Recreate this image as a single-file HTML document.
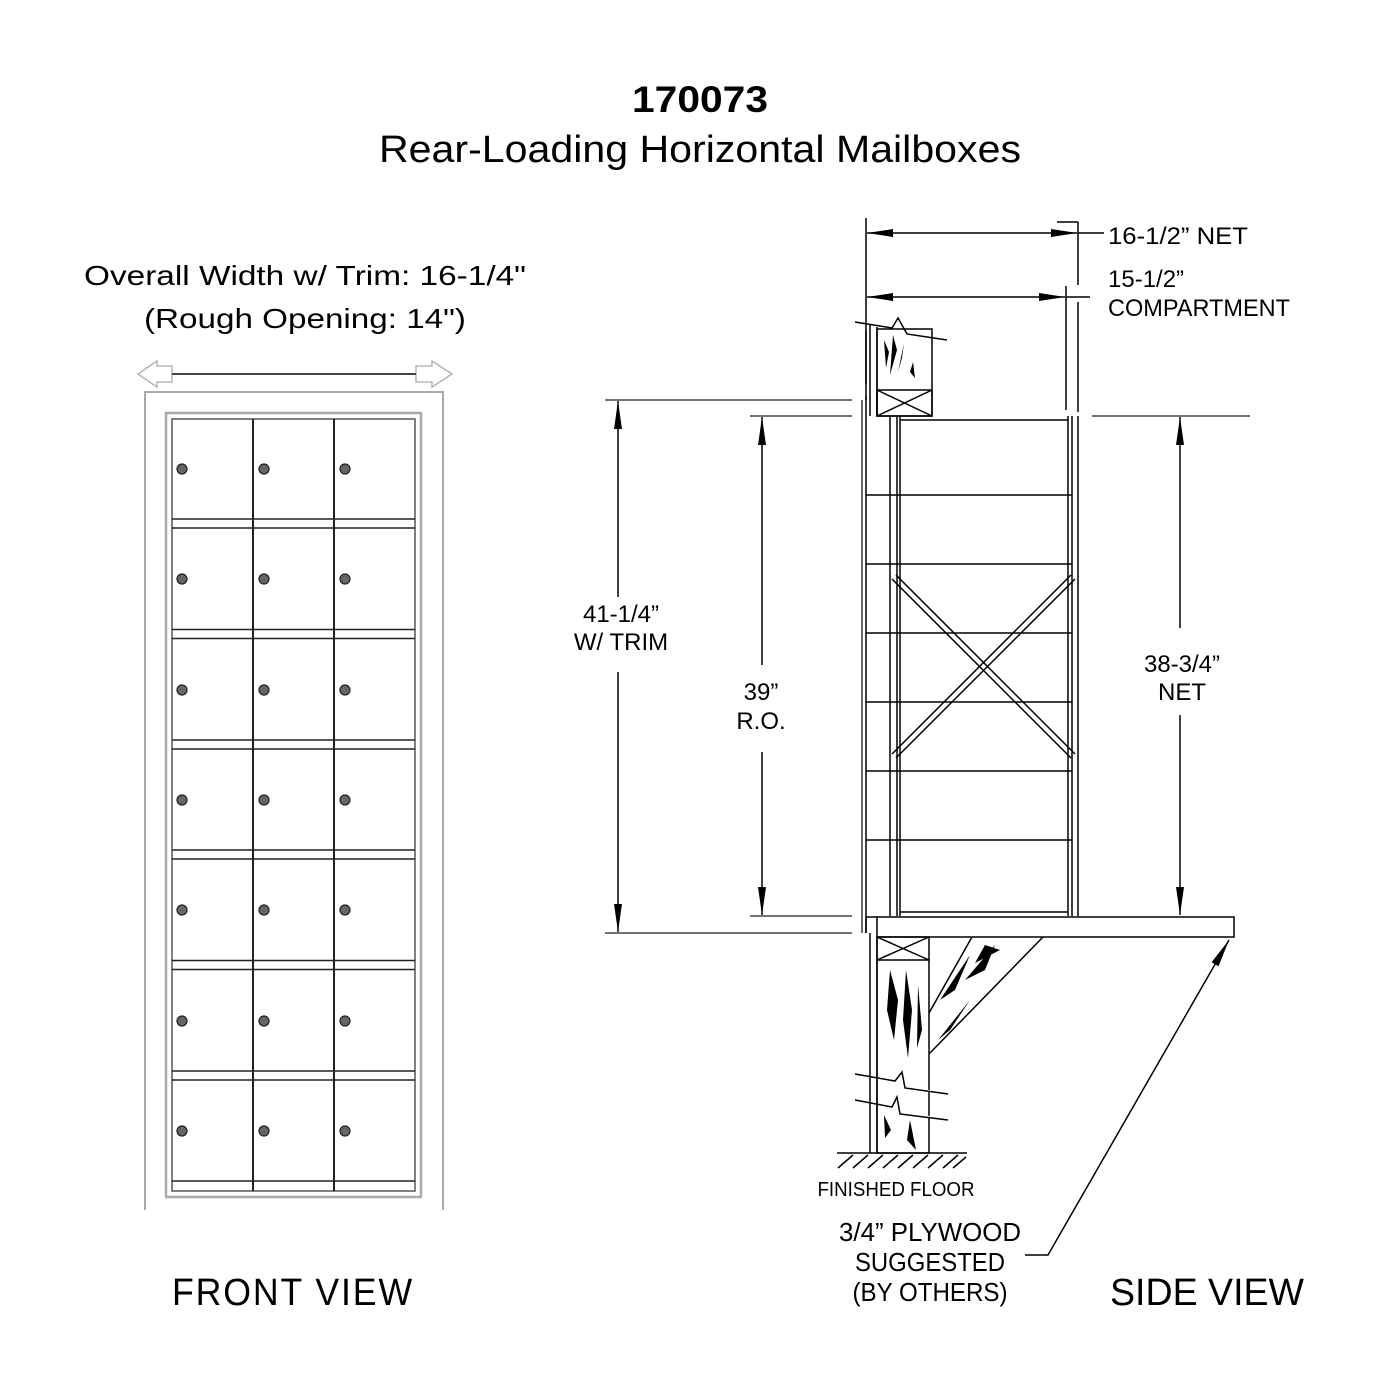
<!DOCTYPE html>
<html><head><meta charset="utf-8"><style>html,body{margin:0;padding:0;background:#fff}svg{display:block}</style></head>
<body>
<svg width="1400" height="1400" viewBox="0 0 1400 1400" xmlns="http://www.w3.org/2000/svg" font-family="Liberation Sans, sans-serif">
<defs>
<marker id="ar" viewBox="-28 -5 28 10" refX="0" refY="0" markerWidth="28" markerHeight="10" markerUnits="userSpaceOnUse" orient="auto-start-reverse"><path d="M0,0 L-26,-4 L-26,4Z" fill="#000"/></marker>
<marker id="av" viewBox="-30 -5 30 10" refX="0" refY="0" markerWidth="30" markerHeight="10" markerUnits="userSpaceOnUse" orient="auto"><path d="M0,0 L-28,-4 L-28,4Z" fill="#000"/></marker>
</defs>
<rect width="1400" height="1400" fill="#fff"/>
<text x="700" y="112" text-anchor="middle" font-size="37" font-weight="bold" textLength="136" lengthAdjust="spacingAndGlyphs">170073</text>
<text x="700" y="162" text-anchor="middle" font-size="38" textLength="642" lengthAdjust="spacingAndGlyphs">Rear-Loading Horizontal Mailboxes</text>

<text x="305" y="285" text-anchor="middle" font-size="28" textLength="442" lengthAdjust="spacingAndGlyphs">Overall Width w/ Trim: 16-1/4"</text>
<text x="305" y="328" text-anchor="middle" font-size="28" textLength="322" lengthAdjust="spacingAndGlyphs">(Rough Opening: 14")</text>
<g stroke="#aaa" stroke-width="1.3" fill="#fff">
<path d="M172,370 L172,366 L157,366 L157,361 L138,374 L157,387 L157,382 L172,382Z"/>
<path d="M416,370 L416,366 L432,366 L432,361 L452,374 L432,387 L432,382 L416,382Z"/>
</g>
<line x1="172" y1="374" x2="416" y2="374" stroke="#444" stroke-width="2"/>
<path d="M145,1210 L145,392 L443,392 L443,1210" stroke="#aaa" stroke-width="2" fill="none"/>
<rect x="166" y="413" width="255" height="784" stroke="#aaa" stroke-width="2.5" fill="none"/>
<rect x="172" y="419" width="243" height="772" fill="none" stroke="#555" stroke-width="1.5"/>
<g stroke="#222" stroke-width="1.4" fill="none">
<path d="M172,519H415M172,528H415 M172,629.5H415M172,638.5H415 M172,740H415M172,749H415 M172,850H415M172,859H415 M172,960.5H415M172,969.5H415 M172,1071H415M172,1080H415 M172,1181H415"/>
<path d="M253,419V1191M334,419V1191" stroke-width="2"/>
</g>
<g fill="#666" stroke="#222" stroke-width="1.2">
<circle cx="182" cy="469" r="5"/><circle cx="264" cy="469" r="5"/><circle cx="345" cy="469" r="5"/>
<circle cx="182" cy="579" r="5"/><circle cx="264" cy="579" r="5"/><circle cx="345" cy="579" r="5"/>
<circle cx="182" cy="690" r="5"/><circle cx="264" cy="690" r="5"/><circle cx="345" cy="690" r="5"/>
<circle cx="182" cy="800" r="5"/><circle cx="264" cy="800" r="5"/><circle cx="345" cy="800" r="5"/>
<circle cx="182" cy="910" r="5"/><circle cx="264" cy="910" r="5"/><circle cx="345" cy="910" r="5"/>
<circle cx="182" cy="1021" r="5"/><circle cx="264" cy="1021" r="5"/><circle cx="345" cy="1021" r="5"/>
<circle cx="182" cy="1131" r="5"/><circle cx="264" cy="1131" r="5"/><circle cx="345" cy="1131" r="5"/>
</g>
<text x="293" y="1305" text-anchor="middle" font-size="38" textLength="242" lengthAdjust="spacingAndGlyphs" letter-spacing="2">FRONT VIEW</text>

<g stroke="#000" stroke-width="1.5" fill="none">
<line x1="866" y1="218" x2="866" y2="400"/>
<line x1="1078" y1="222" x2="1078" y2="285"/>
<line x1="1057" y1="222" x2="1078" y2="222"/>
<line x1="1078" y1="302" x2="1078" y2="412"/>
<line x1="1066" y1="286" x2="1066" y2="410"/>
<line x1="867" y1="233" x2="1077" y2="233" marker-start="url(#ar)" marker-end="url(#ar)"/>
<line x1="1078" y1="233" x2="1104" y2="233"/>
<line x1="867" y1="297" x2="1065" y2="297" marker-start="url(#ar)" marker-end="url(#ar)"/>
<line x1="1066" y1="297" x2="1090" y2="297"/>
<line x1="605" y1="400" x2="852" y2="400" stroke="#444"/>
<line x1="605" y1="933" x2="852" y2="933" stroke="#444"/>
<line x1="750" y1="416" x2="852" y2="416" stroke="#444"/>
<line x1="750" y1="916" x2="852" y2="916" stroke="#444"/>
<line x1="1092" y1="416" x2="1250" y2="416" stroke="#444"/>
<line x1="618" y1="597" x2="618" y2="401" marker-end="url(#av)"/>
<line x1="618" y1="672" x2="618" y2="932" marker-end="url(#av)"/>
<line x1="762" y1="665" x2="762" y2="417" marker-end="url(#av)"/>
<line x1="762" y1="752" x2="762" y2="915" marker-end="url(#av)"/>
<line x1="1180" y1="628" x2="1180" y2="417" marker-end="url(#av)"/>
<line x1="1180" y1="715" x2="1180" y2="915" marker-end="url(#av)"/>
</g>
<g font-size="24" text-anchor="middle">
<text x="621" y="622">41-1/4”</text>
<text x="621" y="650">W/ TRIM</text>
<text x="761" y="700">39”</text>
<text x="761" y="729">R.O.</text>
<text x="1182" y="672">38-3/4”</text>
<text x="1182" y="700">NET</text>
</g>
<g font-size="24">
<text x="1108" y="244" textLength="140" lengthAdjust="spacingAndGlyphs">16-1/2” NET</text>
<text x="1108" y="287">15-1/2”</text>
<text x="1108" y="316" textLength="182" lengthAdjust="spacingAndGlyphs">COMPARTMENT</text>
</g>

<g stroke="#000" stroke-width="1.5" fill="none">
<path d="M855,322 L892,328 L898,318 L907,334 L947,340"/>
<path d="M866,330 V384 M866,396 V933"/>
<path d="M870,325 V416 M877,327 V416"/>
<rect x="877" y="329" width="55" height="87"/>
<rect x="877" y="390" width="55" height="26"/>
<path d="M877,390 L932,416 M932,390 L877,416"/>
<path d="M862,400 V933" stroke-width="1.2"/>
<path d="M890,416 V916 M897,416 V916 M900,416 V916"/>
<path d="M1068,416 V916 M1072,416 V916 M1078,416 V916"/>
<path d="M900,420 H1068"/>
<path d="M866,495H1072 M866,564H1072 M866,633H1072 M866,702H1072 M866,771H1072 M866,840H1072 M900,912H1068"/>
<path d="M892,579 L1071,758 M896,575 L1075,754"/>
<path d="M1071,575 L892,754 M1075,579 L896,758"/>
<rect x="877" y="917" width="357" height="20"/>
<path d="M866,933 V917 H877"/>
<path d="M870,933 V1153 M877,937 V1153"/>
<rect x="877" y="937" width="52" height="216"/>
<path d="M877,960 H929 M877,937 L929,960 M929,937 L877,960"/>
<path d="M929,1054 L1043,937"/>
<path d="M929,1013 L972,937"/>
<path d="M855,1074 L895,1081 L902,1072 L905,1088 L948,1094" fill="#fff"/>
<path d="M855,1100 L892,1107 L897,1097 L900,1114 L948,1120" fill="#fff"/>
<path d="M837,1153 H967"/>
<path d="M838,1168 L853,1155 M853,1168 L868,1155 M868,1168 L883,1155 M883,1168 L898,1155 M898,1168 L913,1155 M913,1168 L928,1155 M928,1168 L943,1155 M943,1168 L958,1155 M953,1168 L966,1157"/>
<path d="M1025,1255 H1048 L1229,940" marker-end="url(#av)"/>
</g>
<g fill="#000">
<path d="M884,340 L889,352 L886,368Z"/><path d="M893,335 L897,350 L890,375Z"/><path d="M904,343 L898,372 L902,358Z"/><path d="M913,362 L915,378 L910,372Z"/>
<path d="M890,970 L898,1000 L894,1040 L887,1010Z"/><path d="M906,970 L912,1010 L908,1058 L903,1020Z"/><path d="M918,985 L922,1030 L917,1048Z"/>
<path d="M940,1000 L970,955 L955,990Z"/><path d="M938,1040 L970,1000 L950,1030Z"/><path d="M985,945 L975,963 L1000,950Z"/><path d="M965,980 L995,945 L985,970Z"/>
<path d="M884,1115 L891,1130 L885,1138Z"/><path d="M910,1120 L916,1150 L907,1140Z"/>
</g>
<text x="896" y="1196" text-anchor="middle" font-size="20" textLength="157" lengthAdjust="spacingAndGlyphs">FINISHED FLOOR</text>
<g font-size="26" text-anchor="middle">
<text x="930" y="1241" textLength="182" lengthAdjust="spacingAndGlyphs">3/4” PLYWOOD</text>
<text x="930" y="1271" textLength="150" lengthAdjust="spacingAndGlyphs">SUGGESTED</text>
<text x="930" y="1301" textLength="155" lengthAdjust="spacingAndGlyphs">(BY OTHERS)</text>
</g>
<text x="1207" y="1305" text-anchor="middle" font-size="38" textLength="194" lengthAdjust="spacingAndGlyphs">SIDE VIEW</text>
</svg>
</body></html>
